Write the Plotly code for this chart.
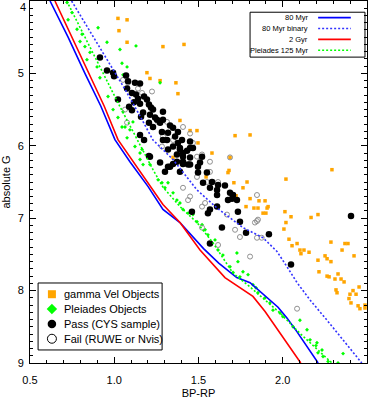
import plotly.graph_objects as go

# ---------------- data ----------------
# isochrones: BP-RP colour and absolute G
iso80_bprp = [0.619, 0.726, 0.826, 0.92, 1.004, 1.093, 1.20, 1.289, 1.39, 1.53, 1.62, 1.727, 1.806, 1.972, 2.025, 2.085, 2.21]
iso80_g    = [4.0,   4.5,   5.0,   5.45, 5.915, 6.22,  6.56, 6.88,  7.06, 7.42, 7.62, 7.82,  7.89,  8.23,  8.38,  8.57,  9.0]

iso80bin_bprp = [0.747, 0.905, 1.064, 1.141, 1.23, 1.349, 1.491, 1.61, 1.764, 1.883, 1.966, 2.025, 2.085, 2.162, 2.263, 2.469]
iso80bin_g    = [4.0,   4.6,   5.22,  5.54,  5.92, 6.19,  6.61,  6.86, 7.13,  7.27,  7.46,  7.67,  7.89,  8.13,  8.41,  9.0]

iso2g_bprp = [0.648, 0.75, 0.85, 0.94, 1.022, 1.093, 1.289, 1.39, 1.509, 1.657, 1.823, 1.895, 2.107]
iso2g_g    = [4.0,   4.5,  5.0,  5.45, 5.915, 6.15,  6.81,  7.06, 7.44,  7.82,  8.08,  8.29,  9.0]

pleiades_bprp = [0.718, 0.88, 1.034, 1.23, 1.289, 1.39, 1.491, 1.586, 1.705, 1.806, 1.984, 2.102, 2.292]
pleiades_g    = [4.0,   4.75, 5.46,  6.33, 6.57,  6.84, 7.06,  7.34,  7.76,  7.95,  8.31,  8.59,  9.0]

# gamma Vel objects
gvel_bprp = [1.022, 1.076, 1.028, 1.076, 1.289, 1.414, 1.194, 1.212, 1.272, 1.366, 1.378, 1.39, 1.45, 1.491,
             1.717, 1.497, 1.58, 1.349, 1.687, 1.806, 2.292, 2.019, 1.806, 1.859, 1.829, 1.895, 1.913, 1.883,
             1.90, 2.013, 2.049, 2.019, 2.168, 2.209, 2.007, 2.037, 2.085, 2.055, 2.102, 2.126, 2.108, 2.156,
             2.286, 2.369, 2.387, 2.352, 2.423, 2.251, 2.263, 2.286, 2.209, 2.215, 2.328, 2.263, 2.275, 2.31,
             2.346, 2.364, 2.453, 2.316, 2.322, 2.417, 2.399, 2.435, 2.393, 2.405, 2.447, 2.488, 2.458, 2.488,
             1.681, 1.675, 1.545, 1.71, 1.788, 1.764, 1.723, 1.782, 1.853, 1.907]
gvel_g    = [4.24, 4.26, 4.41, 4.57, 4.63, 4.60, 4.99, 5.07, 5.10, 5.13, 5.28, 5.65, 5.79, 5.79,
             5.86, 5.96, 6.10, 6.16, 6.16, 5.85, 6.33, 6.46, 6.73, 6.76, 6.86, 6.76, 6.84, 6.93,
             6.93, 6.91, 6.98, 7.06, 6.99, 6.95, 7.15, 7.29, 7.35, 7.38, 7.44, 7.44, 7.49, 7.47,
             7.33, 7.35, 7.35, 7.44, 7.52, 7.52, 7.56, 7.60, 7.58, 7.74, 7.77, 7.80, 7.81, 7.84,
             7.84, 7.88, 7.95, 7.99, 8.03, 8.00, 8.05, 8.05, 8.11, 8.17, 8.21, 8.20, 8.25, 8.24,
             6.34, 6.37, 6.43, 6.51, 6.50, 6.58, 6.69, 6.84, 6.86, 6.86]

# Pleiades objects
plei_obj_bprp = [0.72, 0.749, 0.726, 0.779, 0.809, 0.797, 0.826, 0.856, 0.838, 0.898, 0.915, 0.963, 0.993, 1.022,
                 1.046, 1.076, 0.904, 0.957, 1.034, 1.129, 1.046, 1.076, 1.272, 1.052, 1.052, 1.111, 1.064, 1.093,
                 1.123, 1.165, 1.153, 1.171, 1.153, 1.212, 1.26, 1.283, 1.319, 1.301, 1.349, 1.372, 1.39, 1.408,
                 1.438, 1.467, 1.491, 1.521, 1.539, 1.556, 1.598, 1.616, 1.645, 1.687, 1.728, 1.734, 1.764, 1.794,
                 1.705, 1.746, 1.823, 1.841, 1.853, 1.895, 1.924, 1.942, 1.984, 2.001, 2.061, 2.102, 2.144, 2.162,
                 2.203, 2.233, 2.239, 2.197, 2.209, 2.269, 2.328, 2.358]
plei_obj_g    = [4.02, 4.16, 4.26, 4.39, 4.46, 4.56, 4.63, 4.71, 4.81, 4.91, 5.06, 5.32, 5.50, 5.61,
                 5.74, 5.89, 4.37, 4.57, 4.67, 4.62, 4.86, 4.91, 5.13, 5.02, 5.53, 5.67, 5.74, 5.78,
                 6.01, 6.05, 6.19, 6.26, 6.10, 6.26, 6.47, 6.51, 6.51, 6.58, 6.65, 6.75, 6.79, 6.88,
                 6.93, 6.95, 7.05, 7.09, 7.16, 7.23, 7.30, 7.44, 7.51, 7.67, 7.48, 7.60, 7.74, 7.78,
                 7.75, 7.81, 7.92, 7.96, 8.03, 8.10, 8.17, 8.27, 8.31, 8.36, 8.50, 8.41, 8.54, 8.68,
                 8.72, 8.82, 8.91, 8.76, 8.86, 8.98, 9.0, 8.87]

# Pass (CYS sample)
pass_bprp = [0.915, 0.957, 0.993, 0.999, 1.07, 1.082, 1.076, 1.022, 1.088, 1.123, 1.153, 1.105, 1.129, 1.141,
             1.177, 1.194, 1.117, 1.153, 1.206, 1.218, 1.23, 1.105, 1.171, 1.212, 1.289, 1.159, 1.242, 1.254,
             1.289, 1.206, 1.272, 1.23, 1.331, 1.349, 1.283, 1.319, 1.378, 1.361, 1.153, 1.177, 1.313, 1.378,
             1.402, 1.349, 1.319, 1.39, 1.432, 1.45, 1.372, 1.408, 1.45, 1.206, 1.272, 1.319, 1.349, 1.408,
             1.438, 1.497, 1.521, 1.45, 1.289, 1.39, 1.408, 1.467, 1.212, 1.331, 1.372, 1.408, 1.45, 1.509,
             1.301, 1.39, 1.497, 1.55, 1.527, 1.58, 1.568, 1.616, 1.657, 1.687, 1.705, 1.699, 1.675, 1.61,
             1.61, 1.728, 1.734, 1.746, 1.782, 1.61, 1.568, 1.556, 1.461, 1.639, 1.568, 2.049, 2.405, 1.918]
pass_g    = [4.78, 4.96, 4.99, 5.04, 5.03, 5.11, 5.21, 5.36, 5.46, 5.13, 5.14, 5.27, 5.29, 5.35,
             5.32, 5.36, 5.40, 5.42, 5.43, 5.47, 5.50, 5.51, 5.54, 5.57, 5.53, 5.60, 5.61, 5.64,
             5.64, 5.68, 5.68, 5.74, 5.72, 5.75, 5.81, 5.82, 5.81, 5.87, 5.85, 5.92, 5.92, 5.96,
             5.92, 6.01, 6.05, 6.05, 6.07, 6.03, 6.12, 6.15, 6.16, 6.14, 6.23, 6.29, 6.25, 6.25,
             6.26, 6.29, 6.15, 5.94, 5.92, 6.03, 6.10, 6.03, 6.15, 6.29, 6.22, 6.22, 6.26, 6.23,
             6.36, 6.36, 6.37, 6.37, 6.51, 6.50, 6.58, 6.54, 6.55, 6.65, 6.68, 6.73, 6.75, 6.61,
             6.68, 6.75, 6.91, 7.05, 7.20, 6.84, 6.88, 6.93, 6.91, 7.13, 7.35, 7.64, 6.97, 7.22]

# Fail (RUWE or Nvis)
fail_bprp = [1.052, 1.082, 1.141, 1.224, 1.165, 1.064, 1.26, 1.313, 1.408, 1.45, 1.289, 1.283, 1.467, 1.521,
             1.568, 1.491, 1.076, 1.349, 1.491, 1.55, 1.408, 1.568, 1.586, 1.616, 1.687, 1.45, 1.438, 1.521,
             1.539, 1.669, 1.847, 1.853, 1.717, 1.806, 1.616, 1.521, 1.746, 1.835, 1.847, 1.847, 1.875, 2.085]
fail_g    = [5.09, 5.13, 5.21, 5.25, 5.27, 5.50, 5.67, 5.67, 5.74, 5.83, 5.87, 6.01, 5.96, 6.12,
             6.22, 6.15, 5.68, 5.92, 6.43, 6.50, 6.58, 6.36, 6.50, 6.50, 6.16, 6.70, 6.75, 6.84,
             6.79, 6.95, 6.68, 7.02, 7.16, 7.53, 7.37, 7.13, 7.26, 7.06, 7.04, 7.27, 7.27, 8.25]

x_ticks = [0.5, 1.0, 1.5, 2.0, 2.5]
x_tick_text = ["0.5", "1.0", "1.5", "2.0", "2.5"]
y_ticks = [4, 5, 6, 7, 8, 9]
y_tick_text = ["", "5", "6", "7", "8", "9"]   # the top label "4" is placed just below the frame

iso_names = ["80 Myr", "80 Myr binary", "2 Gyr", "Pleiades 125 Myr"]
iso_colors = ["#0000ff", "#3333ff", "#ff0000", "#00ff00"]
iso_dash = ["solid", "2px,2px", "solid", "2px,2px"]

pt_names = ["gamma Vel Objects", "Pleiades Objects", "Pass (CYS sample)", "Fail (RUWE or Nvis)"]

FONT = "Liberation Sans, Arial, Helvetica, sans-serif"

fig = go.Figure()

# data points
fig.add_trace(go.Scatter(x=gvel_bprp, y=gvel_g, mode="markers", showlegend=False,
                         marker=dict(symbol="square", size=3.5, color="#ffa500", line=dict(width=0))))
fig.add_trace(go.Scatter(x=plei_obj_bprp, y=plei_obj_g, mode="markers", showlegend=False,
                         marker=dict(symbol="diamond", size=3, color="#00ff00", line=dict(width=0))))
fig.add_trace(go.Scatter(x=fail_bprp, y=fail_g, mode="markers", showlegend=False,
                         marker=dict(symbol="circle-open", size=5, color="#909090", line=dict(width=1))))
fig.add_trace(go.Scatter(x=pass_bprp, y=pass_g, mode="markers", showlegend=False,
                         marker=dict(symbol="circle", size=6.5, color="#000000", line=dict(width=0))))

# isochrone lines
for xs, ys, c, d in [(iso80_bprp, iso80_g, iso_colors[0], iso_dash[0]),
                     (iso80bin_bprp, iso80bin_g, iso_colors[1], iso_dash[1]),
                     (iso2g_bprp, iso2g_g, iso_colors[2], iso_dash[2]),
                     (pleiades_bprp, pleiades_g, iso_colors[3], iso_dash[3])]:
    fig.add_trace(go.Scatter(x=xs, y=ys, mode="lines", showlegend=False,
                             line=dict(color=c, width=1.6, dash=d)))

# ---- manual legends (text left / sample right for isochrones; symbol left for points) ----
shapes = []
annotations = []

# top-right legend box
shapes.append(dict(type="rect", xref="paper", yref="paper", x0=0.653, x1=0.994, y0=0.845, y1=0.969,
                   line=dict(color="black", width=1), fillcolor="white", layer="below"))
row_y = [0.954, 0.924, 0.894, 0.864]
for name, c, d, yy in zip(iso_names, iso_colors, iso_dash, row_y):
    annotations.append(dict(xref="paper", yref="paper", x=0.832, y=yy, text=name, showarrow=False,
                            xanchor="right", yanchor="middle", font=dict(size=7.5, family=FONT, color="black")))
    shapes.append(dict(type="line", xref="paper", yref="paper", x0=0.855, x1=0.952, y0=yy, y1=yy,
                       line=dict(color=c, width=1.6, dash=d), layer="above"))

# bottom-left legend box
shapes.append(dict(type="rect", xref="paper", yref="paper", x0=0.024, x1=0.392, y0=0.036, y1=0.221,
                   line=dict(color="black", width=1), fillcolor="white", layer="below"))
prow_y = [0.190, 0.149, 0.108, 0.067]
for name, yy in zip(pt_names, prow_y):
    annotations.append(dict(xref="paper", yref="paper", x=0.094, y=yy, text=name, showarrow=False,
                            xanchor="left", yanchor="middle", font=dict(size=11, family=FONT, color="black")))

# top y tick label "4" nudged inside the page
annotations.append(dict(xref="paper", yref="paper", x=0, y=1, text="4", showarrow=False,
                        xanchor="right", yanchor="top", xshift=-2, yshift=2,
                        font=dict(size=11, family=FONT, color="black")))

# legend symbols on an invisible overlay axis spanning the plot area (0..1)
sym = [dict(symbol="square", size=8, color="#ffa500", line=dict(width=0)),
       dict(symbol="diamond", size=8, color="#00ff00", line=dict(width=0)),
       dict(symbol="circle", size=8.5, color="#000000", line=dict(width=0)),
       dict(symbol="circle-open", size=9, color="#000000", line=dict(width=1))]
for m, yy in zip(sym, prow_y):
    fig.add_trace(go.Scatter(x=[0.065], y=[yy], xaxis="x2", yaxis="y2", mode="markers",
                             marker=m, showlegend=False, hoverinfo="skip", cliponaxis=False))

axis_common = dict(showline=True, linecolor="black", linewidth=1, mirror="ticks",
                   ticks="inside", ticklen=6, tickwidth=1, tickcolor="black",
                   showgrid=False, zeroline=False,
                   tickfont=dict(size=11, family=FONT, color="black"))

fig.update_layout(
    width=374, height=400,
    margin=dict(l=30, r=7, t=1, b=37),
    paper_bgcolor="white", plot_bgcolor="white",
    font=dict(family=FONT, color="black"),
    showlegend=False,
    shapes=shapes, annotations=annotations,
    xaxis=dict(range=[0.5, 2.5], tickvals=x_ticks, ticktext=x_tick_text,
               minor=dict(dtick=0.1, ticks="inside", ticklen=3, tickcolor="black", showgrid=False),
               title=dict(text="BP-RP", font=dict(size=11, family=FONT), standoff=4),
               ticklabelstandoff=7, **axis_common),
    yaxis=dict(range=[9, 4], tickvals=y_ticks, ticktext=y_tick_text,
               minor=dict(dtick=0.1, ticks="inside", ticklen=3, tickcolor="black", showgrid=False),
               title=dict(text="absolute G", font=dict(size=11, family=FONT), standoff=4),
               ticklabelstandoff=3, **axis_common),
    xaxis2=dict(overlaying="x", range=[0, 1], visible=False, fixedrange=True),
    yaxis2=dict(overlaying="y", range=[0, 1], visible=False, fixedrange=True),
)

fig.write_html("out.html", config={"displayModeBar": False},
               post_script="document.body.style.margin='0px';")
